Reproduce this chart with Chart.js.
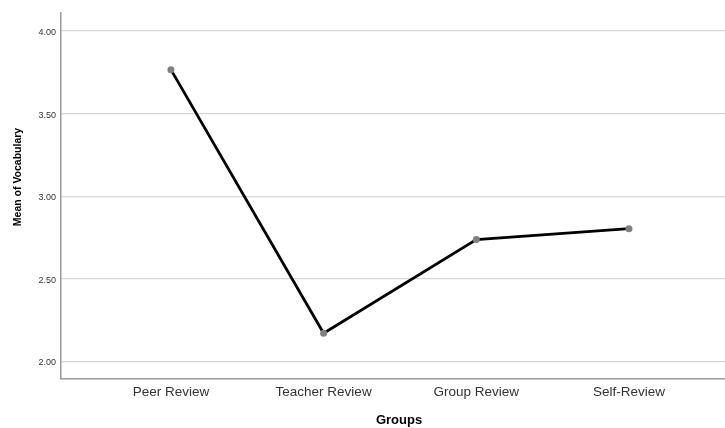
<!DOCTYPE html>
<html>
<head>
<meta charset="utf-8">
<script src="https://cdn.jsdelivr.net/npm/chart.js@4.4.1/dist/chart.umd.min.js"></script>
<style>
  html, body { margin: 0; padding: 0; background: #ffffff; overflow: hidden; }
  #wrap { width: 725px; height: 428px; position: relative; }
</style>
</head>
<body>
<div id="wrap"><canvas id="c" width="725" height="428"></canvas></div>
<script>
const categories = ["Peer Review", "Teacher Review", "Group Review", "Self-Review"];
const meanVocabulary = [3.766, 2.17, 2.737, 2.803];
const yTicks = [2.00, 2.50, 3.00, 3.50, 4.00];
const xTitle = "Groups";
const yTitle = "Mean of Vocabulary";

const FONT = "'Liberation Sans', Arial, sans-serif";

const titlesPlugin = {
  id: 'axisTitles',
  afterDraw(chart) {
    const ctx = chart.ctx;
    ctx.save();
    ctx.fillStyle = '#000000';
    ctx.font = "bold 13px " + FONT;
    ctx.textAlign = 'center';
    ctx.textBaseline = 'middle';
    ctx.fillText(xTitle, 399, 420);
    ctx.translate(18, 177);
    ctx.rotate(-Math.PI / 2);
    ctx.font = "bold 10.5px " + FONT;
    ctx.fillText(yTitle, 0, 0);
    ctx.restore();
  }
};

new Chart(document.getElementById('c'), {
  type: 'line',
  data: {
    datasets: [{
      data: categories.map((c, i) => ({ x: i + 1, y: meanVocabulary[i] })),
      borderColor: '#000000',
      borderWidth: 2.8,
      pointRadius: 3.5,
      pointBackgroundColor: '#808080',
      pointBorderColor: '#808080',
      pointBorderWidth: 0,
      tension: 0,
      fill: false
    }]
  },
  options: {
    responsive: false,
    animation: false,
    devicePixelRatio: 1,
    layout: { autoPadding: false, padding: { top: 13, right: 0, left: 0, bottom: 0 } },
    plugins: { legend: { display: false }, tooltip: { enabled: false } },
    scales: {
      x: {
        type: 'linear',
        min: 0.28,
        max: 4.629,
        afterBuildTicks(scale) { scale.ticks = categories.map((c, i) => ({ value: i + 1 })); },
        afterFit(scale) { scale.height = 49; },
        grid: { display: false, drawTicks: false },
        border: { display: true, color: '#9a9a9a', width: 1.5 },
        ticks: {
          autoSkip: false,
          maxRotation: 0,
          padding: 5,
          color: '#333333',
          font: { family: FONT, size: 13.5 },
          callback: (v) => categories[Math.round(v) - 1] || ''
        }
      },
      y: {
        type: 'linear',
        min: 1.893,
        max: 4.109,
        afterBuildTicks(scale) { scale.ticks = yTicks.map(v => ({ value: v })); },
        afterFit(scale) { scale.width = 61; },
        grid: { color: '#d6d6d6', lineWidth: 1.2, drawTicks: false },
        border: { display: true, color: '#9a9a9a', width: 1.5 },
        ticks: {
          padding: 5,
          labelOffset: 1.5,
          color: '#333333',
          font: { family: FONT, size: 9 },
          callback: (v) => Number(v).toFixed(2)
        }
      }
    }
  },
  plugins: [titlesPlugin]
});
</script>
</body>
</html>
